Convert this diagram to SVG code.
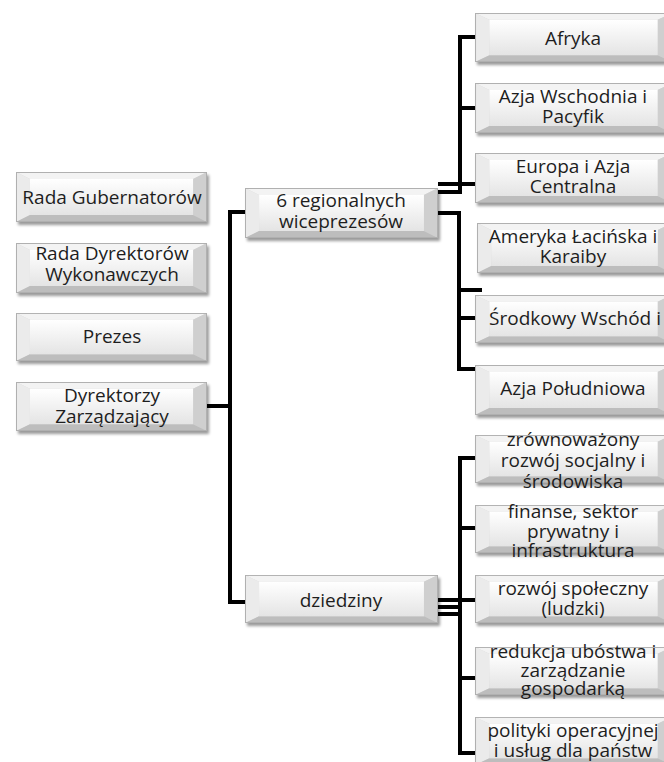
<svg xmlns="http://www.w3.org/2000/svg" xmlns:xlink="http://www.w3.org/1999/xlink" width="664" height="762" viewBox="0 0 664 762">
<style>
  .t { font-family: "Open Sans", "Liberation Sans", sans-serif; font-size: 19px; fill: #1e1e1e; text-anchor: middle; }
  .c { fill: none; stroke: #000; stroke-width: 4; stroke-linecap: butt; stroke-linejoin: miter; }
  .box { filter: url(#sh); }
</style>
<defs>
  <linearGradient id="gFace" x1="0" y1="0" x2="0" y2="1">
    <stop offset="0" stop-color="#ffffff"/>
    <stop offset="1" stop-color="#e4e4e4"/>
  </linearGradient>
  <filter id="sh" x="-10%" y="-20%" width="125%" height="150%">
    <feGaussianBlur in="SourceAlpha" stdDeviation="1.8"/>
    <feOffset dx="2" dy="3" result="b"/>
    <feComponentTransfer><feFuncA type="linear" slope="0.4"/></feComponentTransfer>
    <feMerge><feMergeNode/><feMergeNode in="SourceGraphic"/></feMerge>
  </filter>
  <symbol id="bevel" viewBox="0 0 192 50" preserveAspectRatio="none">
    <rect x="0" y="0" width="192" height="50" fill="#d6d6d6"/>
    <path d="M0,0 L192,0 L178,7 L14,7 Z" fill="#f3f3f3"/>
    <path d="M0,0 L14,7 L14,43 L0,50 Z" fill="#ebebeb"/>
    <path d="M192,0 L192,50 L178,43 L178,7 Z" fill="#cfcfcf"/>
    <path d="M0,50 L14,43 L178,43 L192,50 Z" fill="#bdbdbd"/>
    <rect x="14" y="7" width="164" height="36" fill="url(#gFace)"/>
    <rect x="0.5" y="0.5" width="191" height="49" fill="none" stroke="#b0b0b0" stroke-width="1"/>
  </symbol>
</defs>
<rect width="664" height="762" fill="#ffffff"/>

<g id="connectors">
  <path class="c" d="M207,406 H230"/>
  <path class="c" d="M245,212 H230 V602 H245"/>
  <path class="c" d="M475,37 H460 V194"/>
  <path class="c" d="M460,108 H475"/>
  <path class="c" d="M438,184 H475"/>
  <path class="c" d="M438,192 H460"/>
  <path class="c" d="M438,213 H459 V369 H475"/>
  <path class="c" d="M459,290 H482"/>
  <path class="c" d="M459,318 H475"/>
  <path class="c" d="M438,600 H460"/>
  <path class="c" d="M438,607 H460"/>
  <path class="c" d="M438,614 H460"/>
  <path class="c" d="M475,458 H460 V753 H475"/>
  <path class="c" d="M460,528 H475"/>
  <path class="c" d="M460,600 H475"/>
  <path class="c" d="M460,678 H475"/>
</g>

<g id="n-rada-gub"><use class="box" xlink:href="#bevel" x="16" y="172" width="191" height="50"/><text class="t" x="112" y="204">Rada Gubernatorów</text></g>
<g id="n-rada-dyr"><use class="box" xlink:href="#bevel" x="16" y="243" width="191" height="50"/><text class="t" x="112" y="260">Rada Dyrektorów<tspan x="112" dy="21">Wykonawczych</tspan></text></g>
<g id="n-prezes"><use class="box" xlink:href="#bevel" x="16" y="313" width="191" height="48"/><text class="t" x="112" y="343">Prezes</text></g>
<g id="n-dyrektorzy"><use class="box" xlink:href="#bevel" x="16" y="382" width="191" height="49"/><text class="t" x="112" y="402">Dyrektorzy<tspan x="112" dy="21">Zarządzający</tspan></text></g>

<g id="n-regionalnych"><use class="box" xlink:href="#bevel" x="245" y="188" width="193" height="50"/><text class="t" x="341" y="207">6 regionalnych<tspan x="341" dy="21">wiceprezesów</tspan></text></g>
<g id="n-dziedziny"><use class="box" xlink:href="#bevel" x="245" y="575" width="193" height="48"/><text class="t" x="341" y="607">dziedziny</text></g>

<g id="n-afryka"><use class="box" xlink:href="#bevel" x="475" y="13" width="197" height="49"/><text class="t" x="573" y="45">Afryka</text></g>
<g id="n-azja-wsch"><use class="box" xlink:href="#bevel" x="475" y="83" width="197" height="50"/><text class="t" x="573" y="103">Azja Wschodnia i<tspan x="573" dy="20">Pacyfik</tspan></text></g>
<g id="n-europa"><use class="box" xlink:href="#bevel" x="475" y="153" width="197" height="50"/><text class="t" x="573" y="173">Europa i Azja<tspan x="573" dy="20">Centralna</tspan></text></g>
<g id="n-ameryka"><use class="box" xlink:href="#bevel" x="477" y="223" width="195" height="50"/><text class="t" x="573" y="243">Ameryka Łacińska i<tspan x="573" dy="20">Karaiby</tspan></text></g>
<g id="n-srodkowy"><use class="box" xlink:href="#bevel" x="475" y="295" width="197" height="48"/><text class="t" x="575" y="325">Środkowy Wschód i</text></g>
<g id="n-azja-pld"><use class="box" xlink:href="#bevel" x="475" y="365" width="197" height="50"/><text class="t" x="573" y="395">Azja Południowa</text></g>

<g id="n-zrownowazony"><use class="box" xlink:href="#bevel" x="475" y="435" width="197" height="48"/><text class="t" x="573" y="446">zrównoważony<tspan x="573" dy="21">rozwój socjalny i</tspan><tspan x="573" dy="21">środowiska</tspan></text></g>
<g id="n-finanse"><use class="box" xlink:href="#bevel" x="475" y="505" width="197" height="48"/><text class="t" x="573" y="518">finanse, sektor<tspan x="573" dy="20">prywatny i</tspan><tspan x="573" dy="19">infrastruktura</tspan></text></g>
<g id="n-rozwoj"><use class="box" xlink:href="#bevel" x="475" y="575" width="197" height="48"/><text class="t" x="573" y="595">rozwój społeczny<tspan x="573" dy="20">(ludzki)</tspan></text></g>
<g id="n-redukcja"><use class="box" xlink:href="#bevel" x="475" y="647" width="197" height="48"/><text class="t" x="573" y="658">redukcja ubóstwa i<tspan x="573" dy="19">zarządzanie</tspan><tspan x="573" dy="18">gospodarką</tspan></text></g>
<g id="n-polityki"><use class="box" xlink:href="#bevel" x="475" y="717" width="197" height="48"/><text class="t" x="573" y="737">polityki operacyjnej<tspan x="573" dy="20">i usług dla państw</tspan></text></g>
</svg>
